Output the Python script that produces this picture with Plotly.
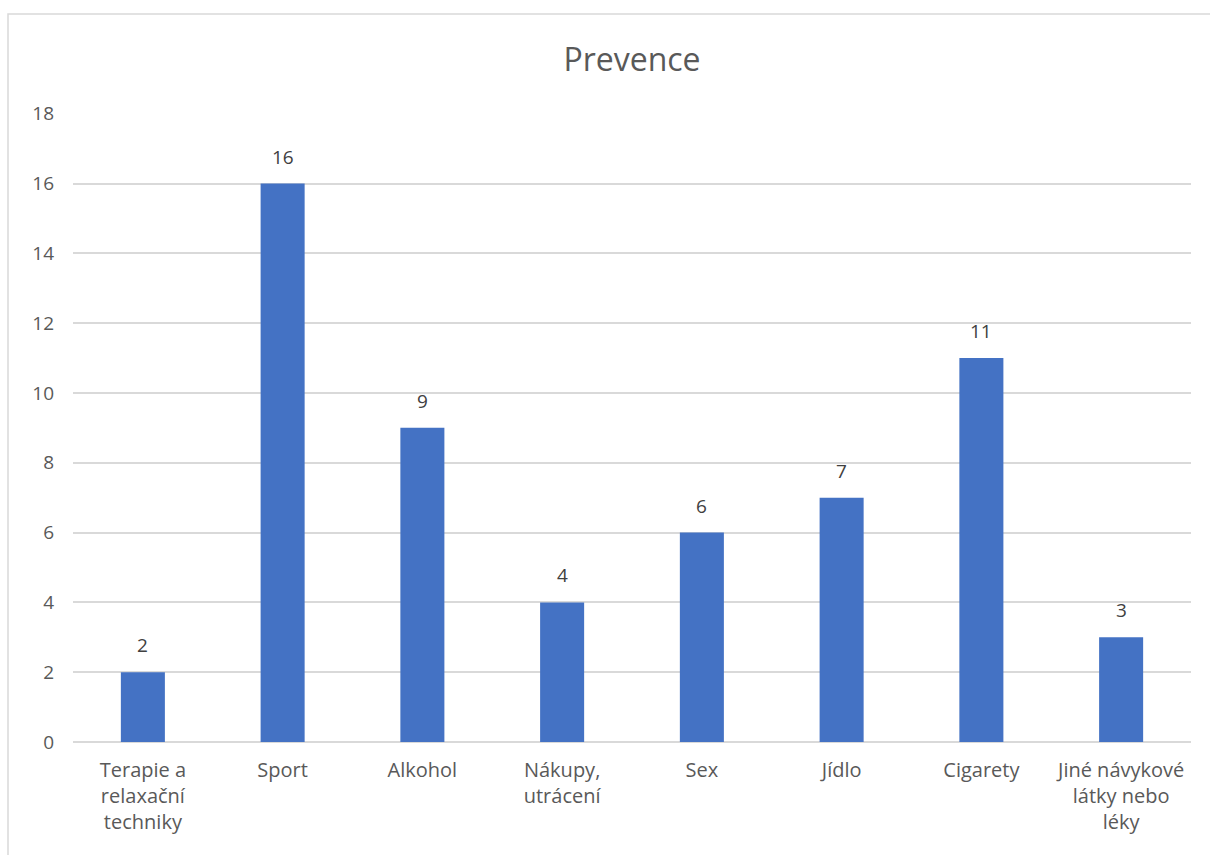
import plotly.graph_objects as go

categories = [
    "Terapie a<br>relaxační<br>techniky",
    "Sport",
    "Alkohol",
    "Nákupy,<br>utrácení",
    "Sex",
    "Jídlo",
    "Cigarety",
    "Jiné návykové<br>látky nebo<br>léky",
]
values = [2, 16, 9, 4, 6, 7, 11, 3]
y_ticks = [0, 2, 4, 6, 8, 10, 12, 14, 16, 18]

W, H = 1210, 855
L, R, T, B = 73, 19, 113, 113
FONT = "Open Sans"
TXT = "#595959"

fig = go.Figure(
    go.Bar(
        x=list(range(len(categories))),
        y=values,
        marker=dict(color="#4472C4", line=dict(width=0)),
        hoverinfo="skip",
    )
)

for i, v in enumerate(values):
    fig.add_annotation(
        x=i, y=v, text=str(v), showarrow=False,
        yanchor="bottom", yshift=12,
        font=dict(family=FONT, size=19, color="#404040"),
    )

# chart-area border
pw = W - L - R
ph = H - T - B
fig.add_shape(
    type="rect", xref="paper", yref="paper",
    x0=(8 - L) / pw, x1=(1230 - L) / pw,
    y0=(H - B - 870) / ph, y1=(H - B - 14) / ph,
    line=dict(color="#d9d9d9", width=1.5), layer="below",
)

fig.update_layout(
    width=W, height=H,
    margin=dict(l=L, r=R, t=T, b=B, autoexpand=False),
    paper_bgcolor="white", plot_bgcolor="white",
    bargap=0.685,
    showlegend=False,
    title=dict(
        text="Prevence", x=0.5, xanchor="center", xref="paper",
        y=(H - 60) / H, yanchor="middle",
        font=dict(family=FONT, size=32, color=TXT),
    ),
    font=dict(family=FONT, color=TXT),
)

fig.update_xaxes(
    tickvals=list(range(len(categories))),
    ticktext=categories,
    range=[-0.5, len(categories) - 0.5],
    showgrid=False, showline=False, zeroline=False,
    ticks="", ticklabelstandoff=14,
    tickfont=dict(family=FONT, size=20, color=TXT),
)
fig.update_yaxes(
    range=[0, 18.02], tickvals=y_ticks,
    showgrid=True, gridcolor="#d9d9d9", gridwidth=1.5,
    zeroline=True, zerolinecolor="#d9d9d9", zerolinewidth=1.5,
    showline=False, ticks="", ticklabelstandoff=18,
    tickfont=dict(family=FONT, size=19, color=TXT),
)

fig.write_html("out.html")
